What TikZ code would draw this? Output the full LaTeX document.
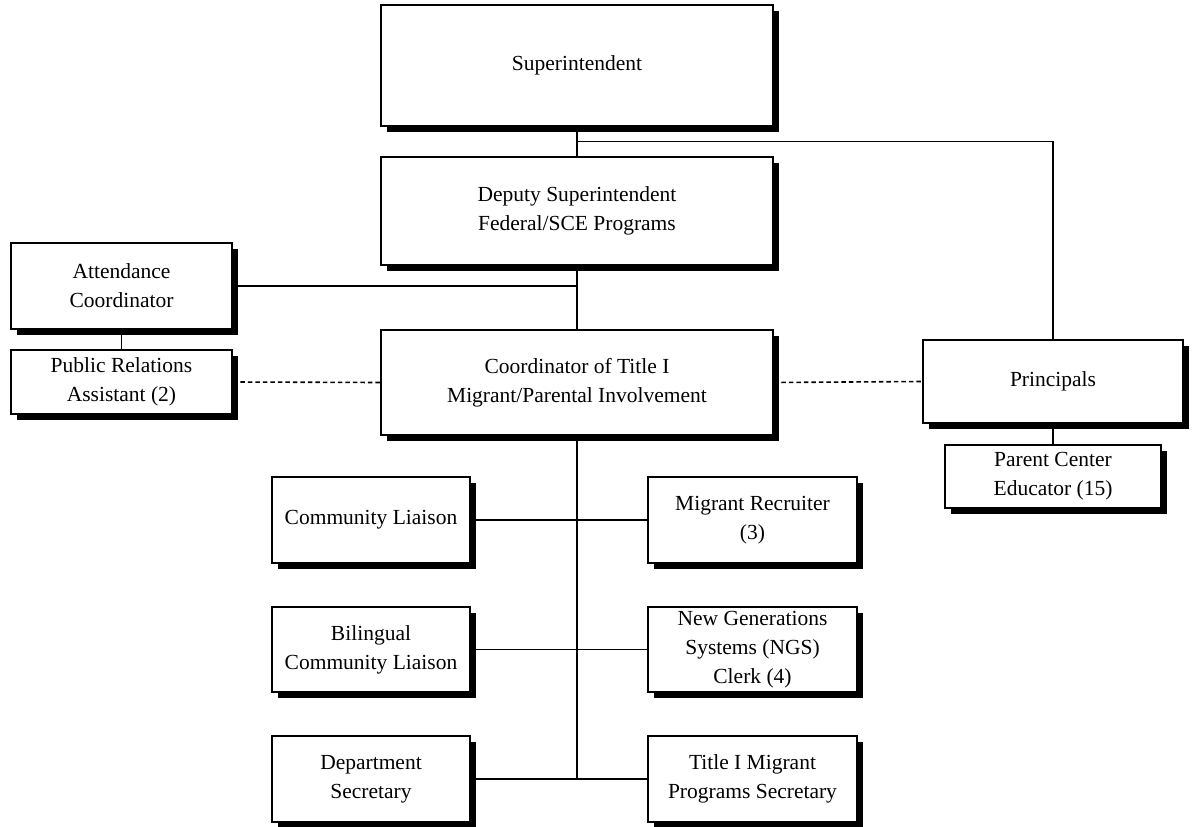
\documentclass[tikz,border=0pt]{standalone}
\usepackage{fontspec}
\setmainfont{Liberation Serif}
\usetikzlibrary{shadows,calc}
\tikzset{
  post/.style={draw=black, line width=1.6pt, fill=white, inner sep=0pt,
    align=center, font=\fontsize{21.5}{29}\selectfont,
    drop shadow={shadow xshift=5.5pt, shadow yshift=-5.5pt, fill=black, opacity=1}},
  link/.style={draw=black, line width=1.6pt},
  dotlink/.style={link, dash pattern=on 4.5pt off 3pt}
}
\begin{document}
\begin{tikzpicture}[x=1pt,y=-1pt]
\useasboundingbox (0,0) rectangle (1194,827);
% main chain
\node[post, minimum width=392pt, minimum height=121pt] (sup) at (577,65.5) {Superintendent};
\node[post, minimum width=392pt, minimum height=108pt] (dep) at (577,211) {Deputy Superintendent\\Federal/SCE Programs};
\node[post, minimum width=392pt, minimum height=105pt] (coo) at (577,382.5) {Coordinator of Title I\\Migrant/Parental Involvement};
% left side
\node[post, minimum width=221pt, minimum height=86pt] (att) at (121.5,286) {Attendance\\Coordinator};
\node[post, minimum width=221pt, minimum height=64pt] (pra) at (121.5,382) {Public Relations\\Assistant (2)};
% right side
\node[post, minimum width=260pt, minimum height=83pt] (pri) at (1053,381.5) {Principals};
\node[post, minimum width=216pt, minimum height=63pt] (par) at (1053,476.5) {Parent Center\\Educator (15)};
% staff under the coordinator
\node[post, minimum width=198pt, minimum height=86pt] (cl) at (371,520) {Community Liaison};
\node[post, minimum width=209pt, minimum height=86pt] (mr) at (752.5,520) {Migrant Recruiter\\(3)};
\node[post, minimum width=198pt, minimum height=85pt] (bcl) at (371,649.5) {Bilingual\\Community Liaison};
\node[post, minimum width=209pt, minimum height=85pt] (ngs) at (752.5,649.5) {New Generations\\Systems (NGS)\\Clerk (4)};
\node[post, minimum width=198pt, minimum height=86pt] (ds) at (371,779) {Department\\Secretary};
\node[post, minimum width=209pt, minimum height=86pt] (ts) at (752.5,779) {Title I Migrant\\Programs Secretary};
% solid reporting lines
\draw[link] (sup.south) -- (dep.north);
\draw[link] ($(sup.south)!0.5!(dep.north)$) -| (pri.north);
\draw[link] (dep.south) -- (coo.north);
\draw[link] (att.east) -- (att.east -| dep.south);
\draw[link] (att.south) -- (pra.north);
\draw[link] (pri.south) -- (par.north);
\draw[link] (coo.south) -- (coo.south |- ds.east);
\draw[link] (cl.east) -- (mr.west);
\draw[link] (bcl.east) -- (ngs.west);
\draw[link] (ds.east) -- (ts.west);
% dotted coordination lines
\draw[dotlink] (pra.east) -- (coo.west);
\draw[dotlink] (coo.east) -- (pri.west);
\end{tikzpicture}
\end{document}
